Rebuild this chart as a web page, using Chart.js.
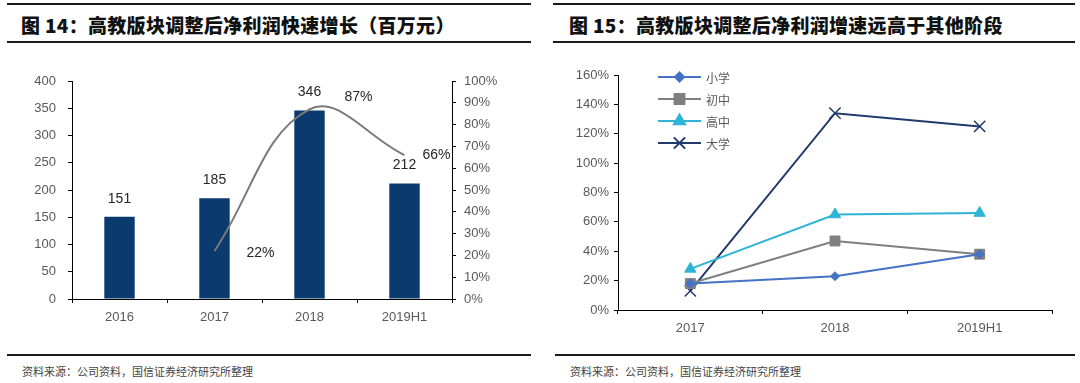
<!DOCTYPE html>
<html>
<head>
<meta charset="utf-8">
<script src="https://cdn.jsdelivr.net/npm/chart.js@4/dist/chart.umd.min.js"></script>
<style>
  body { margin: 0; width: 1080px; height: 383px; background: #fff; position: relative; overflow: hidden; }
  .rule { position: absolute; height: 2px; background: #1a1a1a; }
  .title { position: absolute; top: 13px; font-family: "Noto Sans CJK SC", sans-serif; font-weight: 900; font-size: 19px; letter-spacing: 0.3px; color: #111; line-height: 24px; white-space: nowrap; }
  .source { position: absolute; top: 363px; font-family: "Noto Sans CJK SC", sans-serif; font-size: 11px; color: #444; white-space: nowrap; }
  .box { position: absolute; top: 60px; width: 540px; }
</style>
</head>
<body>
<div class="rule" style="left:7px; width:524px; top:3px;"></div>
<div class="rule" style="left:7px; width:524px; top:41px;"></div>
<div class="title" style="left:21px;">图 14：高教版块调整后净利润快速增长（百万元）</div>
<div class="rule" style="left:7px; width:524px; top:354px;"></div>
<div class="source" style="left:22px;">资料来源：公司资料，国信证券经济研究所整理</div>

<div class="rule" style="left:553px; width:522px; top:3px;"></div>
<div class="rule" style="left:553px; width:522px; top:41px;"></div>
<div class="title" style="left:569px;">图 15：高教版块调整后净利润增速远高于其他阶段</div>
<div class="rule" style="left:555px; width:520px; top:354px;"></div>
<div class="source" style="left:570px;">资料来源：公司资料，国信证券经济研究所整理</div>

<div class="box" style="left:0; height:280px;"><canvas id="profitChart"></canvas></div>
<div class="box" style="left:540px; height:290px;"><canvas id="stageChart"></canvas></div>

<script>
// 图14 数据
const years = ['2016', '2017', '2018', '2019H1'];
const netProfit = [151, 185, 346, 212];
const profitGrowth = [null, 0.22, 0.87, 0.66];

// 图15 数据
const stageYears = ['2017', '2018', '2019H1'];
const stageNames = ['小学', '初中', '高中', '大学'];
const primaryGrowth = [0.18, 0.23, 0.38];
const juniorGrowth = [0.18, 0.47, 0.38];
const seniorGrowth = [0.28, 0.65, 0.66];
const collegeGrowth = [0.13, 1.34, 1.25];

Chart.defaults.font.family = '"Liberation Sans", Arial, sans-serif';
Chart.defaults.font.size = 13;
Chart.defaults.color = '#595959';
Chart.defaults.animation = false;

const pct = v => Math.round(v * 100) + '%';
const axisGrid = { drawOnChartArea: false, tickLength: 4, color: '#000', lineWidth: 1 };
const axisBorder = { color: '#000', width: 1 };

// 柱子和折线上的数值标签
const profitLabels = {
    id: 'profitLabels',
    afterDatasetsDraw(chart) {
        const ctx = chart.ctx;
        ctx.save();
        ctx.font = '14px "Liberation Sans", Arial, sans-serif';
        ctx.fillStyle = '#262626';
        ctx.textAlign = 'center';
        ctx.textBaseline = 'middle';
        chart.getDatasetMeta(1).data.forEach((bar, i) => {
            ctx.fillText(netProfit[i], bar.x, bar.y - 18);
        });
        const offsets = [null, [46, 2], [49, -12], [32, 0]];
        chart.getDatasetMeta(0).data.forEach((pt, i) => {
            if (profitGrowth[i] == null) return;
            ctx.fillText(pct(profitGrowth[i]), pt.x + offsets[i][0], pt.y + offsets[i][1]);
        });
        ctx.restore();
    }
};

const ctxProfit = document.getElementById('profitChart');
new Chart(ctxProfit, {
    type: 'bar',
    data: {
        labels: years,
        datasets: [{
            type: 'line',
            data: profitGrowth,
            yAxisID: 'y1',
            borderColor: '#7a7a7a',
            borderWidth: 2,
            tension: 0.4,
            pointRadius: 0,
            spanGaps: true
        }, {
            data: netProfit,
            backgroundColor: '#0b3a6f',
            categoryPercentage: 1,
            barPercentage: 0.32
        }]
    },
    options: {
        responsive: true,
        maintainAspectRatio: false,
        layout: { padding: { top: 21, left: 0, right: 0, bottom: 0 } },
        plugins: { legend: { display: false }, tooltip: { enabled: false } },
        scales: {
            x: {
                grid: Object.assign({ offset: true }, axisGrid),
                border: axisBorder,
                ticks: { padding: 7 },
                afterFit(s) { s.height = 41; }
            },
            y: {
                position: 'left',
                min: 0, max: 400,
                ticks: { stepSize: 50, padding: 12 },
                grid: axisGrid,
                border: axisBorder,
                afterFit(s) { s.width = 72; }
            },
            y1: {
                position: 'right',
                min: 0, max: 1,
                ticks: { stepSize: 0.1, padding: 8, callback: v => pct(v) },
                grid: axisGrid,
                border: axisBorder,
                afterFit(s) { s.width = 88; }
            }
        }
    },
    plugins: [profitLabels]
});

// 图15 图例（线段中间带标记）
const stageLegend = {
    id: 'stageLegend',
    afterDraw(chart) {
        const ctx = chart.ctx;
        const area = chart.chartArea;
        ctx.save();
        chart.data.datasets.forEach((ds, i) => {
            const y = area.top + 2 + i * 22;
            const x0 = area.left + 40;
            ctx.strokeStyle = ds.borderColor;
            ctx.lineWidth = 2;
            ctx.beginPath();
            ctx.moveTo(x0, y);
            ctx.lineTo(x0 + 43, y);
            ctx.stroke();
            ctx.fillStyle = ds.pointBackgroundColor;
            ctx.strokeStyle = ds.pointBorderColor;
            Chart.helpers.drawPoint(ctx, {
                pointStyle: ds.pointStyle,
                radius: ds.pointRadius,
                borderWidth: ds.pointBorderWidth,
                rotation: 0
            }, x0 + 21.5, y);
            ctx.font = '12px "Noto Sans CJK SC", sans-serif';
            ctx.fillStyle = '#595959';
            ctx.textBaseline = 'middle';
            ctx.fillText(ds.label, x0 + 48, y + 1);
        });
        ctx.restore();
    }
};

function stageSet(label, data, color, style, radius, bw) {
    return {
        label: label,
        data: data,
        borderColor: color,
        borderWidth: 2,
        pointStyle: style,
        pointRadius: radius,
        pointBackgroundColor: color,
        pointBorderColor: color,
        pointBorderWidth: bw,
        tension: 0
    };
}

const ctxStage = document.getElementById('stageChart');
new Chart(ctxStage, {
    type: 'line',
    data: {
        labels: stageYears,
        datasets: [
            stageSet(stageNames[0], primaryGrowth, '#4472c4', 'rectRot', 4.5, 1),
            stageSet(stageNames[1], juniorGrowth, '#7f7f7f', 'rect', 7, 1),
            stageSet(stageNames[2], seniorGrowth, '#2fb4d8', 'triangle', 6.5, 1),
            stageSet(stageNames[3], collegeGrowth, '#1f3a6b', 'crossRot', 8, 1.5)
        ]
    },
    options: {
        responsive: true,
        maintainAspectRatio: false,
        layout: { padding: { top: 15, left: 0, right: 28, bottom: 0 } },
        plugins: { legend: { display: false }, tooltip: { enabled: false } },
        scales: {
            x: {
                offset: true,
                grid: Object.assign({ offset: true }, axisGrid),
                border: axisBorder,
                ticks: { padding: 7 },
                afterFit(s) { s.height = 40; }
            },
            y: {
                min: 0, max: 1.6,
                ticks: { stepSize: 0.2, padding: 5, callback: v => pct(v) },
                grid: axisGrid,
                border: axisBorder,
                afterFit(s) { s.width = 78; }
            }
        }
    },
    plugins: [stageLegend]
});
</script>
</body>
</html>
